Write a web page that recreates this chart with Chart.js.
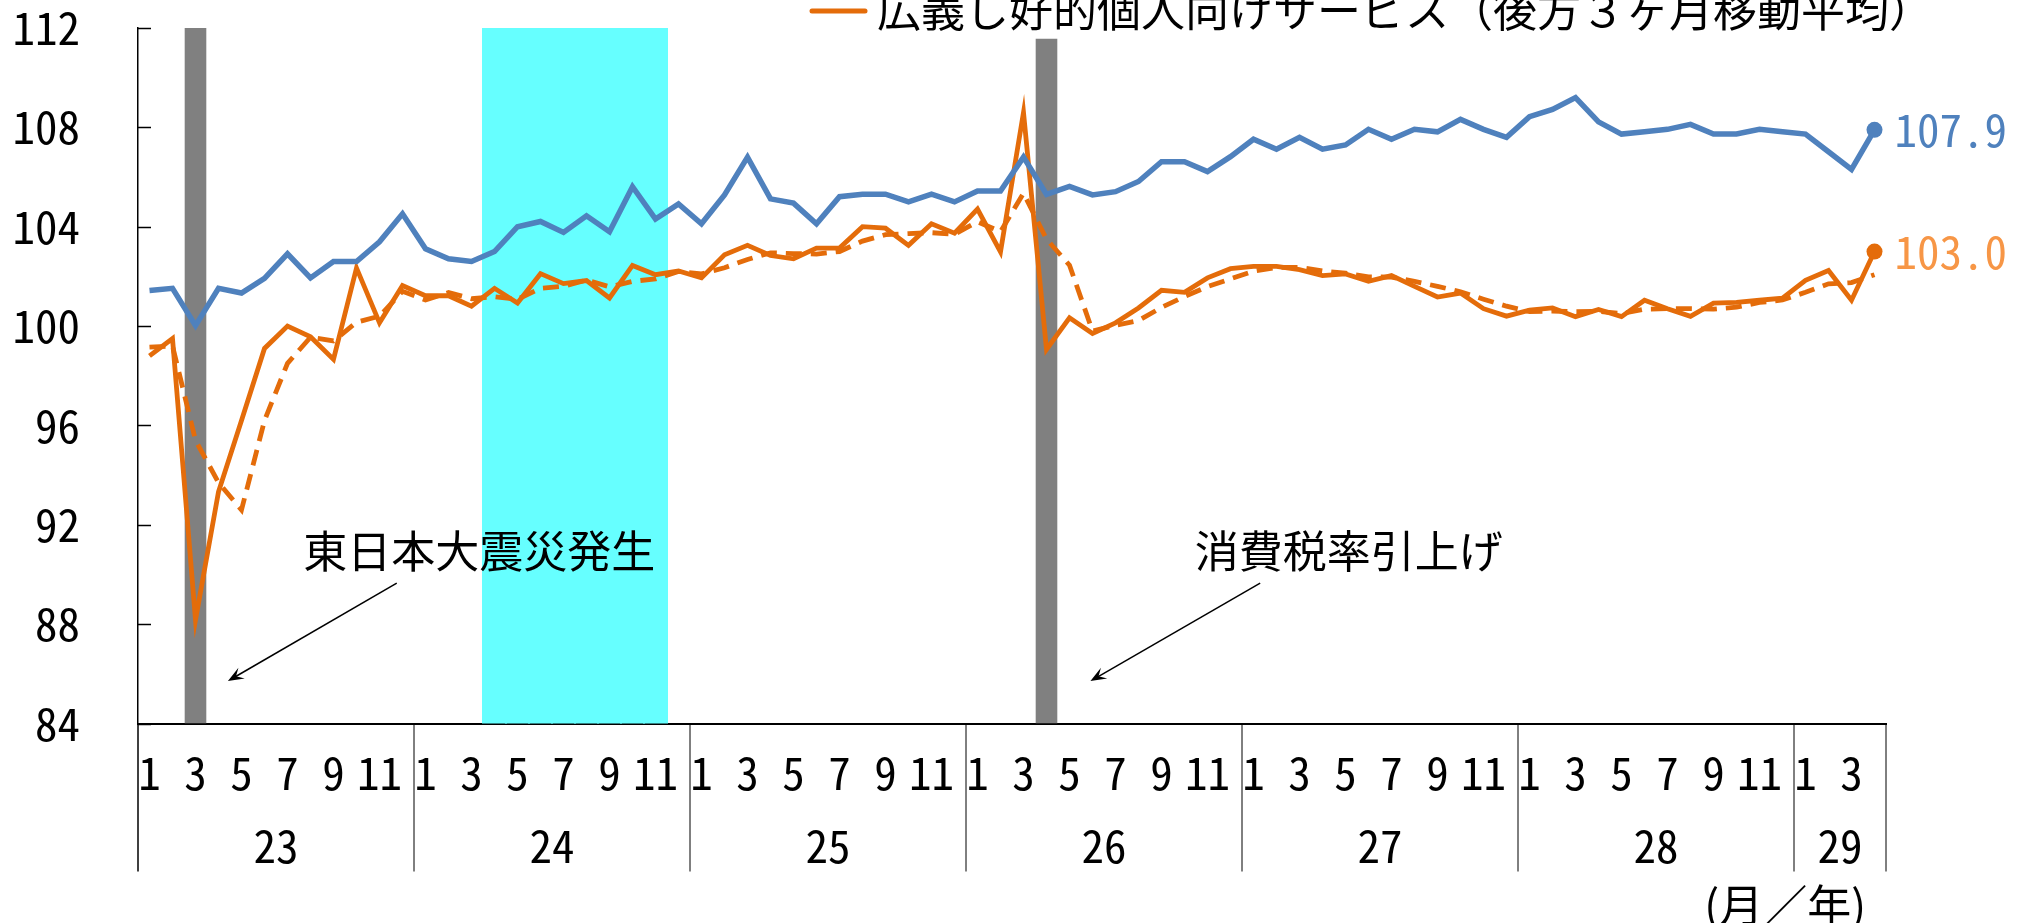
<!DOCTYPE html>
<html lang="ja">
<head>
<meta charset="utf-8">
<title>広義し好的個人向けサービス</title>
<script src="https://cdn.jsdelivr.net/npm/chart.js@4/dist/chart.umd.min.js"></script>
<style>
  html, body { margin: 0; padding: 0; background: #fff; }
  #wrap { width: 2028px; height: 923px; overflow: hidden; }
</style>
</head>
<body>
<div id="wrap"><canvas id="chart" width="2028" height="923"></canvas></div>
<script>
// 年（平成）と各年の月数
var years = ['23', '24', '25', '26', '27', '28', '29'];
var monthsPerYear = [12, 12, 12, 12, 12, 12, 4];

// 青の系列
var blueSeries = [
    101.43, 101.52, 100.02, 101.52, 101.33, 101.92, 102.91, 101.94, 102.60, 102.60, 103.39, 104.52,
    103.11, 102.71, 102.60, 103.00, 104.00, 104.21, 103.77, 104.44, 103.80, 105.61, 104.31, 104.92,
    104.12, 105.28, 106.80, 105.12, 104.95, 104.12, 105.21, 105.31, 105.31, 105.00, 105.31, 105.00,
    105.44, 105.44, 106.80, 105.30, 105.62, 105.28, 105.41, 105.82, 106.62, 106.62, 106.22, 106.82,
    107.52, 107.12, 107.60, 107.12, 107.29, 107.92, 107.52, 107.92, 107.82, 108.32, 107.92, 107.60,
    108.43, 108.72, 109.20, 108.22, 107.73, 107.82, 107.92, 108.12, 107.73, 107.73, 107.92, 107.82,
    107.73, 107.02, 106.31, 107.90
];

// 広義し好的個人向けサービス
var orangeSeries = [
    98.80, 99.50, 88.17, 93.33, 96.20, 99.10, 100.00, 99.57, 98.66, 102.34, 100.13, 101.63,
    101.22, 101.22, 100.80, 101.52, 100.93, 102.11, 101.71, 101.83, 101.13, 102.44, 102.07, 102.22,
    101.94, 102.87, 103.25, 102.84, 102.71, 103.14, 103.14, 104.00, 103.94, 103.25, 104.12, 103.74,
    104.71, 102.99, 108.60, 99.06, 100.33, 99.70, 100.13, 100.73, 101.44, 101.36, 101.94, 102.31,
    102.40, 102.40, 102.27, 102.03, 102.10, 101.80, 102.03, 101.60, 101.17, 101.33, 100.70, 100.40,
    100.64, 100.73, 100.38, 100.67, 100.38, 101.04, 100.70, 100.39, 100.92, 100.95, 101.04, 101.12,
    101.84, 102.24, 101.04, 103.00
];

// 同（後方３ヶ月移動平均）
var orangeAvg = [
    99.15, 99.20, 95.40, 93.70, 92.60, 96.20, 98.50, 99.55, 99.40, 100.15, 100.40, 101.40,
    101.05, 101.35, 101.10, 101.18, 101.08, 101.52, 101.60, 101.85, 101.58, 101.80, 101.90, 102.20,
    102.10, 102.35, 102.68, 102.95, 102.92, 102.90, 103.00, 103.42, 103.68, 103.72, 103.76, 103.70,
    104.20, 103.80, 105.35, 103.50, 102.45, 99.80, 100.03, 100.22, 100.75, 101.19, 101.59, 101.90,
    102.21, 102.36, 102.36, 102.22, 102.13, 101.98, 101.97, 101.80, 101.60, 101.38, 101.08, 100.80,
    100.58, 100.60, 100.58, 100.59, 100.50, 100.68, 100.70, 100.70, 100.68, 100.76, 100.95, 101.05,
    101.36, 101.70, 101.75, 102.07
];

var yTicks = [84, 88, 92, 96, 100, 104, 108, 112];

// 網掛け（月のインデックス）
var grayMonths = [2, 39];          // 23年3月, 26年4月
var grayTops = [112, 111.57];
var cyanMonths = [15, 16, 17, 18, 19, 20, 21, 22];

// 注記: 位置は [月インデックス, 値]
var notes = [
    { text: '東日本大震災発生', at: [6.68, 90.94], from: [10.75, 89.65], to: [3.41, 85.71] },
    { text: '消費税率引上げ', at: [45.45, 90.94], from: [48.29, 89.65], to: [40.91, 85.71] }
];

var legendText = '広義し好的個人向けサービス（後方３ヶ月移動平均）';

var monoFont = "'Noto Sans Mono CJK JP', 'Noto Sans CJK JP', monospace";
var jpFont = "'Noto Sans CJK JP', sans-serif";

var labels = [];
var monthNo = [];
years.forEach(function (yr, k) {
    for (var m = 1; m <= monthsPerYear[k]; m++) {
        labels.push(yr + '/' + m);
        monthNo.push(m);
    }
});
var last = labels.length - 1;

var grayData = labels.map(function (l, i) {
    var k = grayMonths.indexOf(i);
    return k < 0 ? null : [84, grayTops[k]];
});
var cyanData = labels.map(function (l, i) {
    return cyanMonths.indexOf(i) < 0 ? null : [84, 112];
});

function endDot(c) { return c.dataIndex === last ? 8 : 0; }

function drawArrow(ctx, x1, y1, x2, y2) {
    var a = Math.atan2(y2 - y1, x2 - x1), h = 17, w = 0.38;
    ctx.beginPath();
    ctx.moveTo(x1, y1);
    ctx.lineTo(x2 - Math.cos(a) * 8, y2 - Math.sin(a) * 8);
    ctx.stroke();
    ctx.beginPath();
    ctx.moveTo(x2, y2);
    ctx.lineTo(x2 - h * Math.cos(a - w), y2 - h * Math.sin(a - w));
    ctx.lineTo(x2 - h * 0.55 * Math.cos(a), y2 - h * 0.55 * Math.sin(a));
    ctx.lineTo(x2 - h * Math.cos(a + w), y2 - h * Math.sin(a + w));
    ctx.closePath();
    ctx.fill();
}

var overlay = {
    id: 'overlay',
    afterDraw: function (chart) {
        var ctx = chart.ctx, x = chart.scales.x, y = chart.scales.y, area = chart.chartArea;
        ctx.save();

        // y軸の内向き目盛
        ctx.strokeStyle = '#000';
        ctx.lineWidth = 1.5;
        yTicks.forEach(function (v) {
            var py = Math.round(y.getPixelForValue(v)) + 0.5;
            ctx.beginPath();
            ctx.moveTo(area.left, py);
            ctx.lineTo(area.left + 13, py);
            ctx.stroke();
        });

        // 年の区切りと年ラベル
        var sepBottom = area.bottom + 148;
        var start = 0;
        ctx.font = '45px ' + monoFont;
        ctx.fillStyle = '#000';
        ctx.textAlign = 'center';
        ctx.textBaseline = 'middle';
        years.forEach(function (yr, k) {
            var n = monthsPerYear[k];
            var left = x.getPixelForValue(start - 0.5);
            ctx.lineWidth = k === 0 ? 1.5 : 1;
            ctx.beginPath();
            ctx.moveTo(left, area.bottom);
            ctx.lineTo(left, sepBottom);
            ctx.stroke();
            ctx.fillText(yr, x.getPixelForValue(start + (n - 1) / 2), area.bottom + 122);
            start += n;
        });
        var right = x.getPixelForValue(start - 0.5);
        ctx.lineWidth = 1;
        ctx.beginPath();
        ctx.moveTo(right, area.bottom);
        ctx.lineTo(right, sepBottom);
        ctx.stroke();

        ctx.font = '44px ' + jpFont;
        ctx.textAlign = 'right';
        ctx.fillText('(月／年)', area.right - 20, area.bottom + 182);

        // 注記と矢印
        ctx.textAlign = 'left';
        ctx.lineWidth = 1.5;
        notes.forEach(function (nt) {
            ctx.fillText(nt.text, x.getPixelForValue(nt.at[0]), y.getPixelForValue(nt.at[1]));
            drawArrow(ctx,
                x.getPixelForValue(nt.from[0]), y.getPixelForValue(nt.from[1]),
                x.getPixelForValue(nt.to[0]), y.getPixelForValue(nt.to[1]));
        });

        // 最新値ラベル
        ctx.font = '45px ' + monoFont;
        [[0, '#4F81BD'], [1, '#F79646']].forEach(function (d) {
            var pt = chart.getDatasetMeta(d[0]).data[last];
            var val = chart.data.datasets[d[0]].data[last];
            ctx.fillStyle = d[1];
            ctx.fillText(val.toFixed(1), pt.x + 20, pt.y);
        });

        // 凡例（上端で切れている）
        ctx.strokeStyle = '#E46C0A';
        ctx.lineWidth = 5;
        ctx.lineCap = 'round';
        ctx.beginPath();
        ctx.moveTo(812, 11);
        ctx.lineTo(865, 11);
        ctx.stroke();
        ctx.fillStyle = '#000';
        ctx.font = '44px ' + jpFont;
        ctx.fillText(legendText, 877, 10);

        ctx.restore();
    }
};

var ctx = document.getElementById('chart').getContext('2d');
var chart = new Chart(ctx, {
    type: 'bar',
    data: {
        labels: labels,
        datasets: [{
            type: 'line',
            label: '系列1',
            data: blueSeries,
            borderColor: '#4F81BD',
            backgroundColor: '#4F81BD',
            borderWidth: 5.5,
            pointRadius: endDot,
            pointBorderWidth: 0,
            tension: 0,
            order: 0
        }, {
            type: 'line',
            label: '広義し好的個人向けサービス',
            data: orangeSeries,
            borderColor: '#E46C0A',
            backgroundColor: '#E46C0A',
            borderWidth: 4.8,
            pointRadius: endDot,
            pointBorderWidth: 0,
            tension: 0,
            order: 0
        }, {
            type: 'line',
            label: legendText,
            data: orangeAvg,
            borderColor: '#E46C0A',
            borderWidth: 4.8,
            borderDash: [16, 9],
            pointRadius: 0,
            tension: 0,
            order: 0
        }, {
            label: 'gray',
            data: grayData,
            backgroundColor: '#808080',
            barPercentage: 0.94,
            categoryPercentage: 1,
            grouped: false,
            order: 2
        }, {
            label: 'cyan',
            data: cyanData,
            backgroundColor: '#66FFFF',
            barPercentage: 1,
            categoryPercentage: 1,
            grouped: false,
            inflateAmount: 1,
            order: 3
        }]
    },
    options: {
        responsive: false,
        animation: false,
        devicePixelRatio: 1,
        layout: { padding: { top: 28, right: 142, left: 0, bottom: 0 } },
        plugins: {
            legend: { display: false },
            tooltip: { enabled: false }
        },
        scales: {
            x: {
                offset: true,
                z: 1,
                grid: { display: false, drawTicks: false },
                border: { color: '#000', width: 2 },
                ticks: {
                    autoSkip: false,
                    maxRotation: 0,
                    padding: 22,
                    color: '#000',
                    font: { family: monoFont, size: 45 },
                    callback: function (v, i) { return monthNo[i] % 2 ? String(monthNo[i]) : ''; }
                },
                afterFit: function (s) { s.height = 199.5; }
            },
            y: {
                min: 84,
                max: 112,
                grid: { display: false, drawTicks: false },
                border: { color: '#000', width: 1.5 },
                ticks: {
                    stepSize: 4,
                    padding: 58,
                    color: '#000',
                    font: { family: monoFont, size: 45 }
                },
                afterFit: function (s) {
                    s.width = 138;
                    s.paddingTop = 0;
                    s.paddingBottom = 0;
                }
            }
        }
    },
    plugins: [overlay]
});
</script>
</body>
</html>
